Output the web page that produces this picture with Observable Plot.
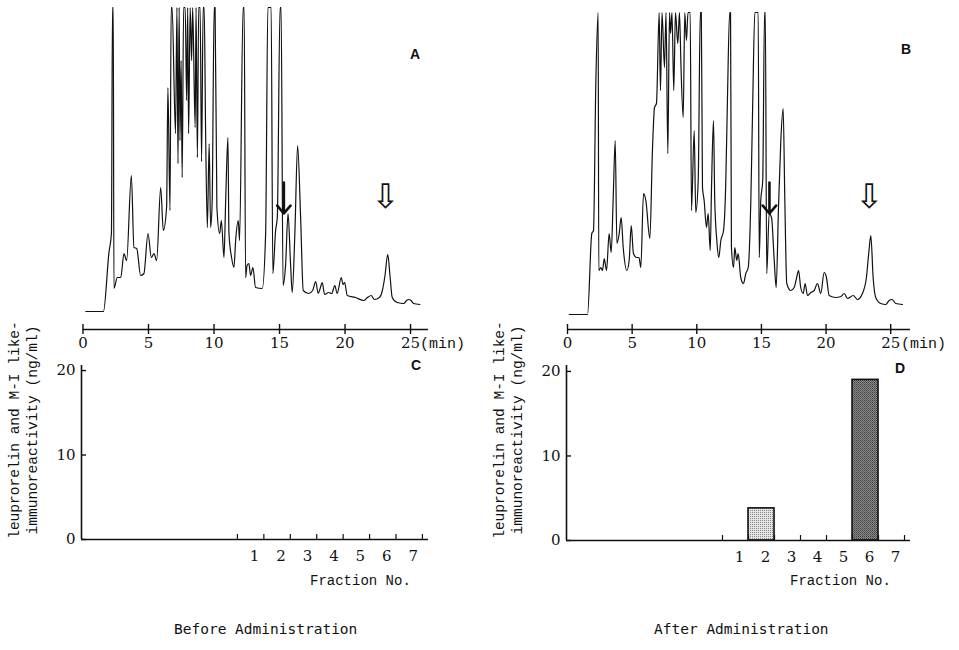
<!DOCTYPE html>
<html><head><meta charset="utf-8">
<script src="https://cdn.jsdelivr.net/npm/d3@7"></script>
<script src="https://cdn.jsdelivr.net/npm/@observablehq/plot@0.6"></script>
<style>
body{margin:0;background:#fff;}
#root{position:relative;width:959px;height:650px;overflow:hidden;background:#fff;}
.p{position:absolute;}
.lbl{position:absolute;white-space:nowrap;color:#111;}
.letter{font:bold 14px "Liberation Sans",Arial,sans-serif;}
.mono{font-family:"Liberation Mono",monospace;font-size:15px;}
.ytitle{position:absolute;width:240px;height:36px;line-height:18px;text-align:center;transform:rotate(-90deg);font-family:"Liberation Mono",monospace;font-size:14.5px;color:#111;white-space:nowrap;}
.cap{font-family:"DejaVu Sans Mono",monospace;font-size:14.5px;}
</style></head><body>
<svg width="0" height="0" style="position:absolute"><defs>
<pattern id="dots" width="2" height="2" patternUnits="userSpaceOnUse"><rect width="2" height="2" fill="#e4e4e4"/><rect width="1" height="1" fill="#8a8a8a"/></pattern>
<pattern id="hatch" width="2" height="2" patternUnits="userSpaceOnUse"><rect width="2" height="2" fill="#8c8c8c"/><rect width="1" height="1" fill="#3c3c3c"/><rect x="1" y="1" width="1" height="1" fill="#5a5a5a"/></pattern>
</defs></svg>
<div id="root">
  <div class="p" id="pA" style="left:0;top:0"></div>
  <div class="p" id="pB" style="left:480px;top:0"></div>
  <div class="p" id="pC" style="left:0;top:310px"></div>
  <div class="p" id="pD" style="left:480px;top:310px"></div>
  <div class="lbl letter" style="left:410px;top:46px">A</div>
  <div class="lbl letter" style="left:901px;top:41px">B</div>
  <div class="lbl letter" style="left:411px;top:357px">C</div>
  <div class="lbl letter" style="left:895px;top:360px">D</div>
  <div class="lbl mono" style="left:420px;top:336px">(min)</div>
  <div class="lbl mono" style="left:901px;top:336px">(min)</div>
  <div class="ytitle" style="left:-96px;top:412px">leuprorelin and M-I like-<br>immunoreactivity (ng/ml)</div>
  <div class="ytitle" style="left:389px;top:412px">leuprorelin and M-I like-<br>immunoreactivity (ng/ml)</div>
  <div class="lbl mono" style="left:310px;top:573px;font-size:14px">Fraction No.</div>
  <div class="lbl mono" style="left:790px;top:573px;font-size:14px">Fraction No.</div>
  <div class="lbl cap" style="left:174px;top:621px">Before Administration</div>
  <div class="lbl cap" style="left:654px;top:621px">After Administration</div>
</div>
<script>
// Chromatogram A (before administration): retention time (min) and detector response (arbitrary units, 0 = baseline, off-scale peaks clipped)
const timeA = [0.21,1.56,1.98,2.17,2.25,2.31,2.36,2.62,2.88,3.13,3.33,3.69,3.89,4.10,4.40,4.65,4.96,5.22,5.42,5.62,5.93,6.13,6.38,6.48,6.64,6.73,6.80,7.06,7.17,7.25,7.34,7.40,7.49,7.57,7.68,7.80,7.91,7.99,8.06,8.18,8.29,8.37,8.56,8.63,8.73,8.83,8.94,9.05,9.17,9.25,9.36,9.49,9.63,9.74,9.86,10.01,10.08,10.22,10.43,10.56,10.76,10.89,11.06,11.14,11.34,11.52,11.65,11.85,11.95,12.22,12.30,12.41,12.52,12.66,12.79,12.97,13.17,13.68,13.94,14.11,14.36,14.49,14.70,14.83,15.04,15.12,15.27,15.46,15.65,15.84,15.97,16.17,16.38,16.61,16.81,17.23,17.53,17.76,17.95,18.10,18.26,18.44,18.75,18.98,19.22,19.40,19.71,19.85,19.97,20.17,20.80,21.43,21.71,21.99,22.24,22.62,22.85,23.05,23.26,23.43,23.60,23.98,24.49,24.69,24.87,25.04,25.23,25.71];
const respA = [0,0,59,78,304,304,23,34,34,58,51,136,64,63,36,38,78,54,58,51,124,81,104,224,101,304,304,178,304,148,304,171,251,134,304,304,211,304,178,304,251,304,184,304,154,304,304,150,304,304,178,84,168,84,111,304,304,104,78,91,54,111,174,78,54,44,71,91,71,304,304,34,46,48,36,44,24,23,78,304,304,38,81,94,304,304,26,46,98,48,19,78,166,94,21,18,21,30,18,23,29,17,19,18,26,18,34,27,29,16,14,11,14,16,12,14,21,36,57,36,14,9,8,11,12,11,8,7];
// Chromatogram B (after administration)
const timeB = [0.13,1.55,1.88,2.01,2.19,2.37,2.42,2.58,2.71,2.84,3.02,3.22,3.38,3.53,3.69,3.82,4.00,4.15,4.31,4.59,4.77,4.93,5.10,5.34,5.53,5.67,5.88,6.06,6.37,6.57,6.73,6.88,7.09,7.19,7.31,7.50,7.62,7.76,7.89,7.97,8.08,8.22,8.35,8.53,8.66,8.78,8.95,9.07,9.20,9.32,9.49,9.59,9.80,9.92,10.11,10.27,10.35,10.44,10.57,10.75,10.88,11.04,11.14,11.29,11.39,11.55,11.70,11.86,12.07,12.24,12.37,12.54,12.61,12.68,12.84,12.94,13.09,13.20,13.40,13.61,13.79,13.98,14.18,14.33,14.49,14.75,14.83,14.95,15.10,15.24,15.30,15.41,15.60,15.78,15.99,16.14,16.32,16.50,16.68,16.81,16.96,17.27,17.53,17.71,17.87,18.04,18.23,18.38,18.56,18.82,19.08,19.33,19.59,19.85,20.03,20.24,20.75,21.14,21.40,21.66,22.10,22.43,22.81,23.12,23.32,23.46,23.64,23.84,24.23,24.62,24.88,25.10,25.39,25.91];
const respB = [0,0,81,84,231,302,44,47,44,56,44,81,62,114,174,71,81,97,67,44,54,89,61,57,57,47,121,114,76,164,207,211,302,224,302,247,302,161,302,281,302,224,302,271,302,247,197,302,274,302,302,104,184,102,134,302,302,127,114,87,101,64,127,194,114,74,57,74,84,131,214,302,302,67,47,67,54,61,37,31,41,47,114,214,302,302,57,114,134,302,302,41,101,97,54,27,107,174,206,114,31,24,27,36,44,27,21,31,19,22,24,31,21,42,37,19,17,18,21,16,19,15,21,37,64,79,37,17,11,10,14,15,11,10];
// Arrow annotations: retention time, response at arrow tail and tip
const solidArrowA = [{t: 15.33, tail: 129, tip: 98}];
const openArrowA = [{t: 23.09, h: 114}];
const solidArrowB = [{t: 15.62, tail: 132, tip: 101}];
const openArrowB = [{t: 23.33, h: 117}];
// Immunoreactivity per fraction (ng/ml)
const fractions = [1, 2, 3, 4, 5, 6, 7];
const irBefore = [0, 0, 0, 0, 0, 0, 0];
const irAfter = [0, 3.8, 0, 0, 0, 19.0, 0];
const minuteTicks = [0, 5, 10, 15, 20, 25];
const irTicks = [0, 10, 20];

const svgStyle = "font-family:'DejaVu Serif',serif;font-size:15px;background:transparent;overflow:visible;color:#111;";

function chromatogram(time, resp, solid, open, o) {
  const data = time.map((t, i) => ({t, h: resp[i]}));
  return Plot.plot({
    width: o.width, height: 360,
    marginLeft: o.ml, marginRight: o.mr, marginTop: o.mt, marginBottom: 31,
    x: {domain: [0, o.xmax], label: null},
    y: {domain: [o.ymin, o.ymax], axis: null, label: null},
    style: svgStyle,
    marks: [
      Plot.ruleY([o.ymin], {stroke: "#111", strokeWidth: 1.6}),
      Plot.axisX(minuteTicks, {anchor: "bottom", label: null, tickSize: 10, dy: -5, tickPadding: 3, tickFormat: d => String(d), stroke: "#111", strokeWidth: 1.4}),
      Plot.line(data, {x: "t", y: "h", curve: "monotone-x", stroke: "#111", strokeWidth: 1.2}),
      Plot.arrow(solid, {x: "t", y1: "tail", y2: "tip", stroke: "#111", strokeWidth: 2.6, headLength: 11, headAngle: 80}),
      Plot.text(open, {x: "t", y: "h", text: () => "\u21E9", fontSize: 34, fontFamily: "DejaVu Sans", fill: "#111"})
    ]
  });
}

function fractionBars(vals, o) {
  const data = fractions.map((f, i) => ({f, v: vals[i]}));
  const bounds = fractions.map(f => f - 0.5).concat([fractions[fractions.length - 1] + 0.5]);
  return Plot.plot({
    width: o.width, height: 300,
    marginLeft: o.ml, marginRight: o.mr, marginTop: 55, marginBottom: o.mb,
    x: {domain: [o.xmin, o.xmax], label: null},
    y: {domain: [0, o.ymax], label: null},
    color: {type: "identity"},
    style: svgStyle,
    marks: [
      Plot.rectY(data, {x1: d => d.f - 0.5, x2: d => d.f + 0.5, y: "v", fill: d => d.f === 6 ? "url(#hatch)" : "url(#dots)", stroke: "#111", strokeWidth: 1.6}),
      Plot.ruleY([0], {stroke: "#111", strokeWidth: 1.6}),
      Plot.ruleX([o.xmin], {stroke: "#111", strokeWidth: 1.6}),
      Plot.axisY(irTicks, {anchor: "left", label: null, tickSize: 5, dx: 5, tickPadding: 6, tickFormat: d => String(d), stroke: "#111", strokeWidth: 1.4}),
      Plot.axisX(bounds, {anchor: "bottom", label: null, tickSize: 5, dy: -5, tickFormat: () => "", stroke: "#111", strokeWidth: 1.2}),
      Plot.axisX(fractions, {anchor: "bottom", label: null, tickSize: 0, tickPadding: 11, dx: 4, tickFormat: d => String(d)})
    ]
  });
}

document.getElementById("pA").append(chromatogram(timeA, respA, solidArrowA, openArrowA, {width: 480, ml: 82.5, mr: 52, mt: 7, xmax: 26.37, ymin: -18, ymax: 304}));
document.getElementById("pB").append(chromatogram(timeB, respB, solidArrowB, openArrowB, {width: 479, ml: 87, mr: 49, mt: 12, xmax: 26.53, ymin: -15, ymax: 302}));
document.getElementById("pC").append(fractionBars(irBefore, {width: 480, ml: 81, mr: 52, mb: 71, xmin: -5.4, xmax: 7.73, ymax: 20.6}));
document.getElementById("pD").append(fractionBars(irAfter, {width: 479, ml: 86, mr: 49, mb: 70, xmin: -5.5, xmax: 7.73, ymax: 20.7}));
</script>
</body></html>
